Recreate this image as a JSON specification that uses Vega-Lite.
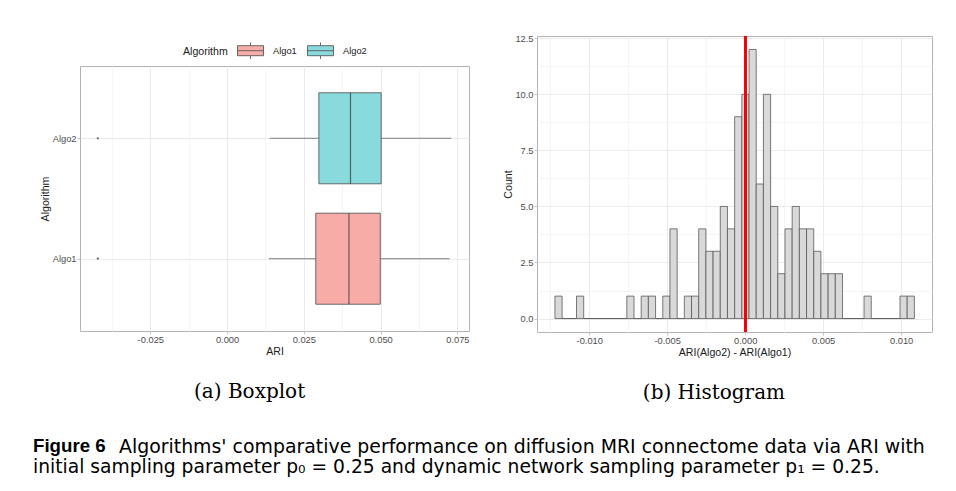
{
  "$schema": "https://vega.github.io/schema/vega-lite/v6.json",
  "padding": {"left": 33, "top": 33, "right": 20, "bottom": 15},
  "background": "white",
  "title": {"text": "initial sampling parameter p₀ = 0.25 and dynamic network sampling parameter p₁ = 0.25.", "orient": "bottom", "anchor": "start", "frame": "group", "font": "DejaVu Sans", "fontSize": 18.7, "fontWeight": "normal", "color": "#000000", "offset": 1, "dx": -47},
  "vconcat": [
    {
      "title": {"text": "Algorithms' comparative performance on diffusion MRI connectome data via ARI with", "orient": "bottom", "anchor": "start", "frame": "group", "font": "DejaVu Sans", "fontSize": 18.9, "fontWeight": "normal", "color": "#000000", "offset": -18, "dx": 39},
      "vconcat": [
        {
          "title": {"text": "Figure 6", "orient": "bottom", "anchor": "start", "frame": "group", "font": "Liberation Sans", "fontSize": 18.7, "fontWeight": "bold", "color": "#000000", "offset": 34, "dx": -47},
          "spacing": 33,
          "resolve": {"scale": {"fill": "independent"}, "legend": {"fill": "independent"}},
          "hconcat": [
            {
              "spacing": 4,
              "resolve": {"scale": {"fill": "independent"}, "legend": {"fill": "independent"}},
              "data": {"values": [
                {"Algorithm": "Algo1", "lower": 0.0136, "q1": 0.0289, "median": 0.0397, "q3": 0.0499, "upper": 0.0725, "outlier": -0.0421},
                {"Algorithm": "Algo2", "lower": 0.0139, "q1": 0.0299, "median": 0.0402, "q3": 0.0502, "upper": 0.0730, "outlier": -0.0421}
              ]},
              "vconcat": [
                {
                  "width": 389,
                  "height": 1,
                  "view": {"stroke": null},
                  "mark": {"type": "square", "size": 0, "filled": true},
                  "encoding": {
                    "fill": {"field": "Algorithm", "type": "nominal",
                      "scale": {"domain": ["Algo1", "Algo2"], "range": ["#F8ACA8", "#88DADC"]},
                      "legend": {"title": "Algorithm", "orient": "bottom", "direction": "horizontal",
                        "titleOrient": "left", "titleAnchor": "middle", "titleBaseline": "line-top", "titleLineHeight": 6.2,
                        "titleFontSize": 10.6, "titleFontWeight": "normal", "titleColor": "#1a1a1a", "titlePadding": 9,
                        "labelFontSize": 9.3, "labelColor": "#1a1a1a", "labelOffset": 9, "columnPadding": 8,
                        "symbolType": "M-1,-0.385H1V0.385H-1Z M-1,0H1 M0,-0.64V-0.385 M0,0.385V0.64",
                        "symbolSize": 676, "symbolStrokeColor": "#5a5a5a", "symbolStrokeWidth": 0.9, "symbolOpacity": 1,
                        "padding": 0, "offset": 0}}
                  }
                },
                {
                  "width": 389,
                  "height": 265,
                  "title": {"text": "(a) Boxplot", "orient": "bottom", "anchor": "middle", "frame": "bounds", "font": "DejaVu Serif", "fontSize": 20, "fontWeight": "normal", "color": "#000000", "offset": 25, "dx": -5},
                  "encoding": {
                    "y": {"field": "Algorithm", "type": "nominal",
                      "scale": {"type": "point", "domain": ["Algo2", "Algo1"], "padding": 0.6},
                      "axis": {"title": "Algorithm", "grid": true, "labelPadding": 1, "titlePadding": 2}}
                  },
                  "layer": [
                    {
                      "mark": {"type": "rule", "color": "#7f7f7f", "strokeWidth": 1},
                      "encoding": {
                        "x": {"field": "lower", "type": "quantitative",
                          "scale": {"domain": [-0.0479, 0.0788], "nice": false, "zero": false},
                          "axis": {"title": "ARI",
                            "values": [-0.0375, -0.025, -0.0125, 0, 0.0125, 0.025, 0.0375, 0.05, 0.0625, 0.075],
                            "labelExpr": "abs(datum.value/0.025 - round(datum.value/0.025)) < 1e-6 ? replace(format(datum.value, '.3f'), '\u2212', '-') : ''",
                            "tickOpacity": {"condition": {"test": "abs(datum.value/0.025 - round(datum.value/0.025)) > 1e-6", "value": 0}, "value": 1},
                            "gridColor": {"condition": {"test": "abs(datum.value/0.025 - round(datum.value/0.025)) > 1e-6", "value": "#f3f3f3"}, "value": "#e6e6e6"},
                            "labelPadding": 1, "titlePadding": 2}},
                        "x2": {"field": "q1"}
                      }
                    },
                    {
                      "mark": {"type": "rule", "color": "#7f7f7f", "strokeWidth": 1},
                      "encoding": {"x": {"field": "q3", "type": "quantitative"}, "x2": {"field": "upper"}}
                    },
                    {
                      "mark": {"type": "bar", "size": 91, "stroke": "#5a5a5a", "strokeWidth": 0.9},
                      "encoding": {
                        "x": {"field": "q1", "type": "quantitative"},
                        "x2": {"field": "q3"},
                        "fill": {"field": "Algorithm", "type": "nominal",
                          "scale": {"domain": ["Algo1", "Algo2"], "range": ["#F8ACA8", "#88DADC"]},
                          "legend": null}
                      }
                    },
                    {
                      "mark": {"type": "tick", "size": 91, "thickness": 1.2, "color": "#333333"},
                      "encoding": {"x": {"field": "median", "type": "quantitative"}}
                    },
                    {
                      "mark": {"type": "circle", "size": 5, "color": "#666666", "opacity": 1},
                      "encoding": {"x": {"field": "outlier", "type": "quantitative"}}
                    }
                  ]
                }
              ]
            },
            {
              "width": 395,
              "height": 296,
              "title": {"text": "(b) Histogram", "orient": "bottom", "anchor": "middle", "frame": "bounds", "font": "DejaVu Serif", "fontSize": 20, "fontWeight": "normal", "color": "#000000", "offset": 25, "dx": -4},
              "data": {"values": [
                {"bin_start": -0.012200, "bin_end": -0.011739, "count": 1},
                {"bin_start": -0.011739, "bin_end": -0.011278, "count": 0},
                {"bin_start": -0.011278, "bin_end": -0.010817, "count": 0},
                {"bin_start": -0.010817, "bin_end": -0.010356, "count": 1},
                {"bin_start": -0.010356, "bin_end": -0.009895, "count": 0},
                {"bin_start": -0.009895, "bin_end": -0.009434, "count": 0},
                {"bin_start": -0.009434, "bin_end": -0.008973, "count": 0},
                {"bin_start": -0.008973, "bin_end": -0.008512, "count": 0},
                {"bin_start": -0.008512, "bin_end": -0.008051, "count": 0},
                {"bin_start": -0.008051, "bin_end": -0.007590, "count": 0},
                {"bin_start": -0.007590, "bin_end": -0.007129, "count": 1},
                {"bin_start": -0.007129, "bin_end": -0.006668, "count": 0},
                {"bin_start": -0.006668, "bin_end": -0.006207, "count": 1},
                {"bin_start": -0.006207, "bin_end": -0.005746, "count": 1},
                {"bin_start": -0.005746, "bin_end": -0.005285, "count": 0},
                {"bin_start": -0.005285, "bin_end": -0.004824, "count": 1},
                {"bin_start": -0.004824, "bin_end": -0.004363, "count": 4},
                {"bin_start": -0.004363, "bin_end": -0.003902, "count": 0},
                {"bin_start": -0.003902, "bin_end": -0.003441, "count": 1},
                {"bin_start": -0.003441, "bin_end": -0.002980, "count": 1},
                {"bin_start": -0.002980, "bin_end": -0.002519, "count": 4},
                {"bin_start": -0.002519, "bin_end": -0.002058, "count": 3},
                {"bin_start": -0.002058, "bin_end": -0.001597, "count": 3},
                {"bin_start": -0.001597, "bin_end": -0.001136, "count": 5},
                {"bin_start": -0.001136, "bin_end": -0.000675, "count": 4},
                {"bin_start": -0.000675, "bin_end": -0.000214, "count": 9},
                {"bin_start": -0.000214, "bin_end": 0.000247, "count": 10},
                {"bin_start": 0.000247, "bin_end": 0.000708, "count": 12},
                {"bin_start": 0.000708, "bin_end": 0.001169, "count": 6},
                {"bin_start": 0.001169, "bin_end": 0.001630, "count": 10},
                {"bin_start": 0.001630, "bin_end": 0.002091, "count": 5},
                {"bin_start": 0.002091, "bin_end": 0.002552, "count": 2},
                {"bin_start": 0.002552, "bin_end": 0.003013, "count": 4},
                {"bin_start": 0.003013, "bin_end": 0.003474, "count": 5},
                {"bin_start": 0.003474, "bin_end": 0.003935, "count": 4},
                {"bin_start": 0.003935, "bin_end": 0.004396, "count": 4},
                {"bin_start": 0.004396, "bin_end": 0.004857, "count": 3},
                {"bin_start": 0.004857, "bin_end": 0.005318, "count": 2},
                {"bin_start": 0.005318, "bin_end": 0.005779, "count": 2},
                {"bin_start": 0.005779, "bin_end": 0.006240, "count": 2},
                {"bin_start": 0.006240, "bin_end": 0.006701, "count": 0},
                {"bin_start": 0.006701, "bin_end": 0.007162, "count": 0},
                {"bin_start": 0.007162, "bin_end": 0.007623, "count": 0},
                {"bin_start": 0.007623, "bin_end": 0.008084, "count": 1},
                {"bin_start": 0.008084, "bin_end": 0.008545, "count": 0},
                {"bin_start": 0.008545, "bin_end": 0.009006, "count": 0},
                {"bin_start": 0.009006, "bin_end": 0.009467, "count": 0},
                {"bin_start": 0.009467, "bin_end": 0.009928, "count": 0},
                {"bin_start": 0.009928, "bin_end": 0.010389, "count": 1},
                {"bin_start": 0.010389, "bin_end": 0.010850, "count": 1}
              ]},
              "layer": [
                {
                  "mark": {"type": "bar", "fill": "#d9d9d9", "stroke": "#595959", "strokeWidth": 0.8},
                  "encoding": {
                    "x": {"field": "bin_start", "type": "quantitative",
                      "scale": {"domain": [-0.01335, 0.01198], "nice": false, "zero": false},
                      "axis": {"title": "ARI(Algo2) - ARI(Algo1)",
                        "values": [-0.0125, -0.01, -0.0075, -0.005, -0.0025, 0, 0.0025, 0.005, 0.0075, 0.01],
                        "labelExpr": "abs(datum.value/0.005 - round(datum.value/0.005)) < 1e-6 ? replace(format(datum.value, '.3f'), '\u2212', '-') : ''",
                        "tickOpacity": {"condition": {"test": "abs(datum.value/0.005 - round(datum.value/0.005)) > 1e-6", "value": 0}, "value": 1},
                        "gridColor": {"condition": {"test": "abs(datum.value/0.005 - round(datum.value/0.005)) > 1e-6", "value": "#f3f3f3"}, "value": "#e6e6e6"},
                        "labelPadding": 1, "titlePadding": 2}},
                    "x2": {"field": "bin_end"},
                    "y": {"field": "count", "type": "quantitative",
                      "scale": {"domain": [-0.6, 12.6], "nice": false, "zero": false},
                      "axis": {"title": "Count",
                        "values": [0, 1.25, 2.5, 3.75, 5, 6.25, 7.5, 8.75, 10, 11.25, 12.5],
                        "labelExpr": "abs(datum.value/2.5 - round(datum.value/2.5)) < 1e-6 ? format(datum.value, '.1f') : ''",
                        "tickOpacity": {"condition": {"test": "abs(datum.value/2.5 - round(datum.value/2.5)) > 1e-6", "value": 0}, "value": 1},
                        "gridColor": {"condition": {"test": "abs(datum.value/2.5 - round(datum.value/2.5)) > 1e-6", "value": "#f3f3f3"}, "value": "#e6e6e6"},
                        "labelPadding": 1, "titlePadding": 1}},
                    "y2": {"datum": 0}
                  }
                },
                {
                  "mark": {"type": "rule", "color": "#ff0000", "strokeWidth": 2.2},
                  "encoding": {"x": {"datum": 0}}
                }
              ]
            }
          ]
        }
      ]
    }
  ],
  "config": {
    "font": "Liberation Sans",
    "view": {"stroke": "#b3b3b3", "strokeWidth": 1},
    "axis": {
      "labelFont": "Liberation Sans", "titleFont": "Liberation Sans",
      "labelFontSize": 9.3, "titleFontSize": 10.6, "titleFontWeight": "normal",
      "labelColor": "#4d4d4d", "titleColor": "#1a1a1a",
      "tickColor": "#b3b3b3", "tickSize": 3, "tickWidth": 0.8,
      "domain": false, "gridColor": "#e6e6e6", "gridWidth": 0.8,
      "labelFlush": false, "labelOverlap": false, "labelBound": false
    },
    "legend": {"labelFont": "Liberation Sans", "titleFont": "Liberation Sans", "layout": {"bottom": {"anchor": "middle"}, "top": {"anchor": "middle"}}}
  }
}
